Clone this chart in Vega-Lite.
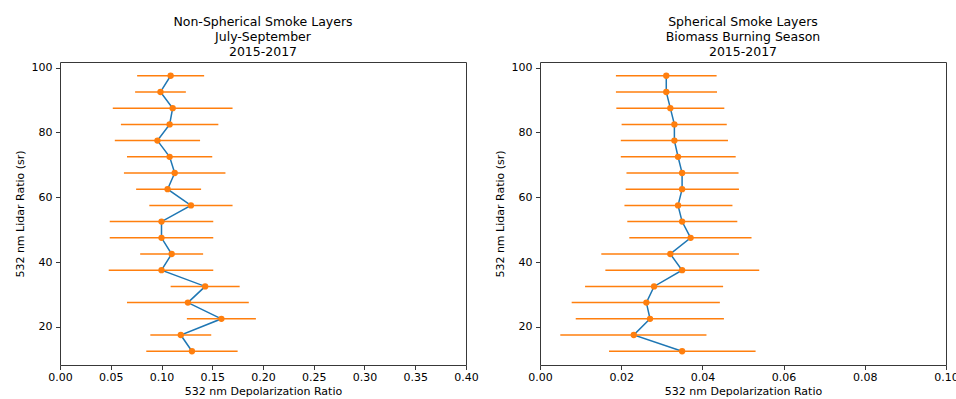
{
  "$schema": "https://vega.github.io/schema/vega-lite/v6.json",
  "autosize": {"type": "none"},
  "padding": {"left": 60, "top": 62, "right": 896, "bottom": 337},
  "spacing": 14,
  "config": {
    "font": "DejaVu Sans",
    "view": {"stroke": "#383838", "strokeWidth": 1},
    "axis": {
      "domain": false,
      "grid": false,
      "ticks": true,
      "tickColor": "#383838",
      "tickSize": 4.5,
      "tickWidth": 1,
      "labelFontSize": 11,
      "titleFontSize": 11,
      "labelColor": "black",
      "titleColor": "black",
      "titleFontWeight": "normal",
      "labelPadding": 3.5,
      "labelFlush": false
    },
    "axisX": {"labelPadding": 2},
    "title": {"fontSize": 12.5, "fontWeight": "normal", "color": "black", "offset": 3, "lineHeight": 15.3}
  },
  "datasets": {
    "nonspherical": [
      {"lidar": 97.5, "ratio": 0.109, "lo": 0.076, "hi": 0.142},
      {"lidar": 92.5, "ratio": 0.099, "lo": 0.074, "hi": 0.124},
      {"lidar": 87.5, "ratio": 0.111, "lo": 0.052, "hi": 0.170},
      {"lidar": 82.5, "ratio": 0.108, "lo": 0.060, "hi": 0.156},
      {"lidar": 77.5, "ratio": 0.096, "lo": 0.054, "hi": 0.138},
      {"lidar": 72.5, "ratio": 0.108, "lo": 0.066, "hi": 0.150},
      {"lidar": 67.5, "ratio": 0.113, "lo": 0.063, "hi": 0.163},
      {"lidar": 62.5, "ratio": 0.106, "lo": 0.075, "hi": 0.139},
      {"lidar": 57.5, "ratio": 0.129, "lo": 0.088, "hi": 0.170},
      {"lidar": 52.5, "ratio": 0.100, "lo": 0.049, "hi": 0.151},
      {"lidar": 47.5, "ratio": 0.100, "lo": 0.049, "hi": 0.151},
      {"lidar": 42.5, "ratio": 0.110, "lo": 0.079, "hi": 0.141},
      {"lidar": 37.5, "ratio": 0.100, "lo": 0.048, "hi": 0.151},
      {"lidar": 32.5, "ratio": 0.143, "lo": 0.109, "hi": 0.177},
      {"lidar": 27.5, "ratio": 0.126, "lo": 0.066, "hi": 0.186},
      {"lidar": 22.5, "ratio": 0.159, "lo": 0.125, "hi": 0.193},
      {"lidar": 17.5, "ratio": 0.119, "lo": 0.089, "hi": 0.149},
      {"lidar": 12.5, "ratio": 0.130, "lo": 0.085, "hi": 0.175}
    ],
    "spherical": [
      {"lidar": 97.5, "ratio": 0.0311, "lo": 0.0187, "hi": 0.0435},
      {"lidar": 92.5, "ratio": 0.0311, "lo": 0.0187, "hi": 0.0436},
      {"lidar": 87.5, "ratio": 0.0321, "lo": 0.0188, "hi": 0.0454},
      {"lidar": 82.5, "ratio": 0.0331, "lo": 0.0201, "hi": 0.0460},
      {"lidar": 77.5, "ratio": 0.0331, "lo": 0.0199, "hi": 0.0463},
      {"lidar": 72.5, "ratio": 0.0340, "lo": 0.0199, "hi": 0.0482},
      {"lidar": 67.5, "ratio": 0.0350, "lo": 0.0213, "hi": 0.0489},
      {"lidar": 62.5, "ratio": 0.0350, "lo": 0.0211, "hi": 0.0490},
      {"lidar": 57.5, "ratio": 0.0340, "lo": 0.0208, "hi": 0.0474},
      {"lidar": 52.5, "ratio": 0.0350, "lo": 0.0215, "hi": 0.0486},
      {"lidar": 47.5, "ratio": 0.0371, "lo": 0.0220, "hi": 0.0521},
      {"lidar": 42.5, "ratio": 0.0321, "lo": 0.0151, "hi": 0.0490},
      {"lidar": 37.5, "ratio": 0.0350, "lo": 0.0161, "hi": 0.0540},
      {"lidar": 32.5, "ratio": 0.0281, "lo": 0.0111, "hi": 0.0451},
      {"lidar": 27.5, "ratio": 0.0262, "lo": 0.0078, "hi": 0.0443},
      {"lidar": 22.5, "ratio": 0.0271, "lo": 0.0088, "hi": 0.0453},
      {"lidar": 17.5, "ratio": 0.0231, "lo": 0.0050, "hi": 0.0410},
      {"lidar": 12.5, "ratio": 0.0350, "lo": 0.0170, "hi": 0.0531}
    ]
  },
  "hconcat": [
    {
      "width": 406,
      "height": 303,
      "title": {"text": ["Non-Spherical Smoke Layers", "July-September", "2015-2017"]},
      "data": {"name": "nonspherical"},
      "encoding": {
        "y": {"field": "lidar", "type": "quantitative", "scale": {"domain": [8.25, 101.75], "nice": false, "zero": false},
              "axis": {"values": [20, 40, 60, 80, 100], "title": "532 nm Lidar Ratio (sr)", "titlePadding": 6}}
      },
      "layer": [
        {
          "mark": {"type": "line", "color": "#1f77b4", "strokeWidth": 1.5},
          "encoding": {
            "x": {"field": "ratio", "type": "quantitative", "scale": {"domain": [0, 0.4], "nice": false, "zero": false},
                  "axis": {"values": [0, 0.05, 0.1, 0.15, 0.2, 0.25, 0.3, 0.35, 0.4], "format": ".2f", "title": "532 nm Depolarization Ratio", "titlePadding": 3}},
            "order": {"field": "lidar", "type": "quantitative"}
          }
        },
        {
          "mark": {"type": "rule", "color": "#ff7f0e", "strokeWidth": 1.5},
          "encoding": {
            "x": {"field": "lo", "type": "quantitative"},
            "x2": {"field": "hi"}
          }
        },
        {
          "mark": {"type": "point", "filled": true, "color": "#ff7f0e", "opacity": 1, "size": 40},
          "encoding": {
            "x": {"field": "ratio", "type": "quantitative"}
          }
        }
      ]
    },
    {
      "width": 406,
      "height": 303,
      "title": {"text": ["Spherical Smoke Layers", "Biomass Burning Season", "2015-2017"]},
      "data": {"name": "spherical"},
      "encoding": {
        "y": {"field": "lidar", "type": "quantitative", "scale": {"domain": [8.25, 101.75], "nice": false, "zero": false},
              "axis": {"values": [20, 40, 60, 80, 100], "title": "532 nm Lidar Ratio (sr)", "titlePadding": 6}}
      },
      "layer": [
        {
          "mark": {"type": "line", "color": "#1f77b4", "strokeWidth": 1.5},
          "encoding": {
            "x": {"field": "ratio", "type": "quantitative", "scale": {"domain": [0, 0.1], "nice": false, "zero": false},
                  "axis": {"values": [0, 0.02, 0.04, 0.06, 0.08, 0.1], "format": ".2f", "title": "532 nm Depolarization Ratio", "titlePadding": 3}},
            "order": {"field": "lidar", "type": "quantitative"}
          }
        },
        {
          "mark": {"type": "rule", "color": "#ff7f0e", "strokeWidth": 1.5},
          "encoding": {
            "x": {"field": "lo", "type": "quantitative"},
            "x2": {"field": "hi"}
          }
        },
        {
          "mark": {"type": "point", "filled": true, "color": "#ff7f0e", "opacity": 1, "size": 40},
          "encoding": {
            "x": {"field": "ratio", "type": "quantitative"}
          }
        }
      ]
    }
  ]
}
